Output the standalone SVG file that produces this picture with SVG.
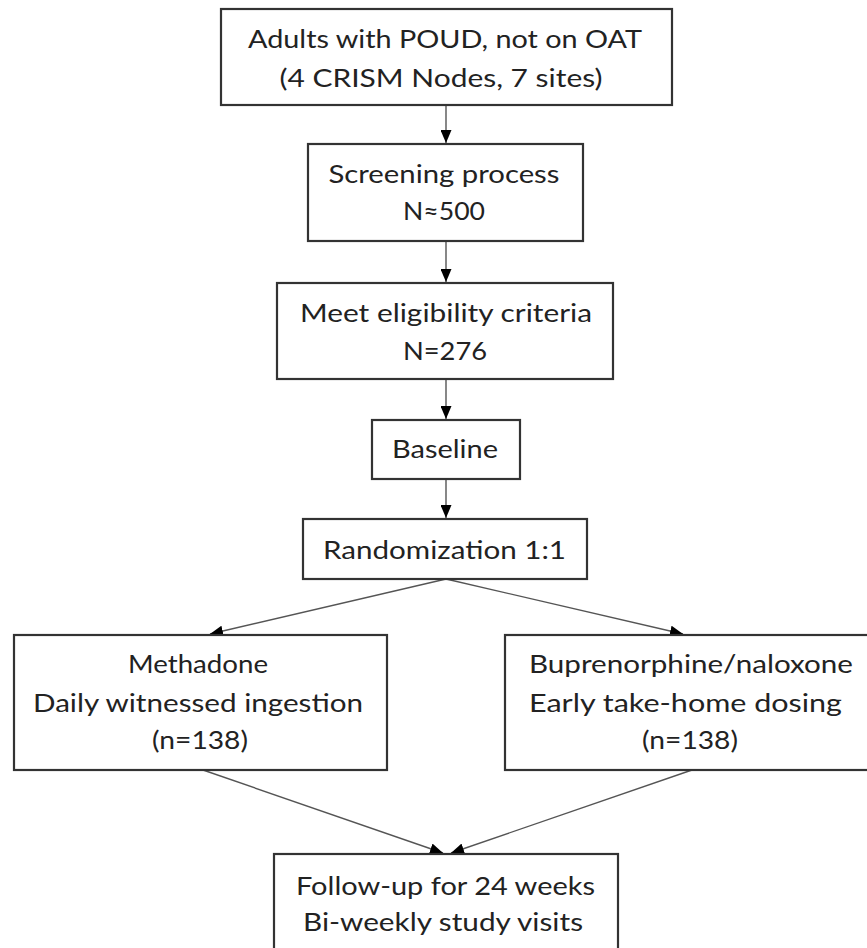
<svg xmlns="http://www.w3.org/2000/svg" width="867" height="948" viewBox="0 0 867 948">
<defs>
<style>
.box{fill:#fff;stroke:#333;stroke-width:2.2}
.t{font-family:Lato,"Open Sans","Liberation Sans",sans-serif;font-size:25px;fill:#222;text-anchor:middle}
.c{stroke:#555;stroke-width:1.4;fill:none;marker-end:url(#ah)}
</style>
<marker id="ah" markerUnits="userSpaceOnUse" markerWidth="13" markerHeight="11" refX="13" refY="5.5" orient="auto">
<path d="M0,0 L13,5.5 L0,11 z" fill="#000"/>
</marker>
</defs>
<rect width="867" height="948" fill="#fff"/>
<g id="connectors">
<line class="c" x1="446" y1="105" x2="446" y2="143"/>
<line class="c" x1="446" y1="241" x2="446" y2="282"/>
<line class="c" x1="446" y1="379" x2="446" y2="419"/>
<line class="c" x1="446" y1="479" x2="446" y2="518"/>
<line class="c" x1="446" y1="579" x2="210" y2="634"/>
<line class="c" x1="446" y1="579" x2="683" y2="634"/>
<line class="c" x1="203" y1="770" x2="443" y2="853"/>
<line class="c" x1="692" y1="770" x2="451" y2="853"/>
</g>
<g id="n1">
<rect class="box" x="221" y="9" width="451" height="96"/>
<text class="t" x="445" y="48" textLength="394" lengthAdjust="spacingAndGlyphs">Adults with POUD, not on OAT</text>
<text class="t" x="441" y="87" textLength="323" lengthAdjust="spacingAndGlyphs">(4 CRISM Nodes, 7 sites)</text>
</g>
<g id="n2">
<rect class="box" x="308" y="144" width="275" height="97"/>
<text class="t" x="444" y="183" textLength="231" lengthAdjust="spacingAndGlyphs">Screening process</text>
<text class="t" x="444" y="220" textLength="82" lengthAdjust="spacingAndGlyphs">N≈500</text>
</g>
<g id="n3">
<rect class="box" x="277" y="283" width="336" height="96"/>
<text class="t" x="446" y="322" textLength="292" lengthAdjust="spacingAndGlyphs">Meet eligibility criteria</text>
<text class="t" x="445" y="360" textLength="84" lengthAdjust="spacingAndGlyphs">N=276</text>
</g>
<g id="n4">
<rect class="box" x="372" y="420" width="148" height="59"/>
<text class="t" x="445" y="458" textLength="106" lengthAdjust="spacingAndGlyphs">Baseline</text>
</g>
<g id="n5">
<rect class="box" x="303" y="519" width="284" height="60"/>
<text class="t" x="444.5" y="559" textLength="243" lengthAdjust="spacingAndGlyphs">Randomization 1:1</text>
</g>
<g id="n6">
<rect class="box" x="14" y="635" width="373" height="135"/>
<text class="t" x="198" y="673" textLength="140" lengthAdjust="spacingAndGlyphs">Methadone</text>
<text class="t" x="198" y="712" textLength="330" lengthAdjust="spacingAndGlyphs">Daily witnessed ingestion</text>
<text class="t" x="200" y="749" textLength="96" lengthAdjust="spacingAndGlyphs">(n=138)</text>
</g>
<g id="n7">
<rect class="box" x="505" y="635" width="372" height="135"/>
<text class="t" x="691" y="673" textLength="324" lengthAdjust="spacingAndGlyphs">Buprenorphine/naloxone</text>
<text class="t" x="685.5" y="712" textLength="313" lengthAdjust="spacingAndGlyphs">Early take-home  dosing</text>
<text class="t" x="690" y="749" textLength="96" lengthAdjust="spacingAndGlyphs">(n=138)</text>
</g>
<g id="n8">
<rect class="box" x="274" y="854" width="344" height="104"/>
<text class="t" x="445.5" y="895" textLength="299" lengthAdjust="spacingAndGlyphs">Follow-up for 24 weeks</text>
<text class="t" x="443" y="931" textLength="280" lengthAdjust="spacingAndGlyphs">Bi-weekly study visits</text>
</g>
</svg>
